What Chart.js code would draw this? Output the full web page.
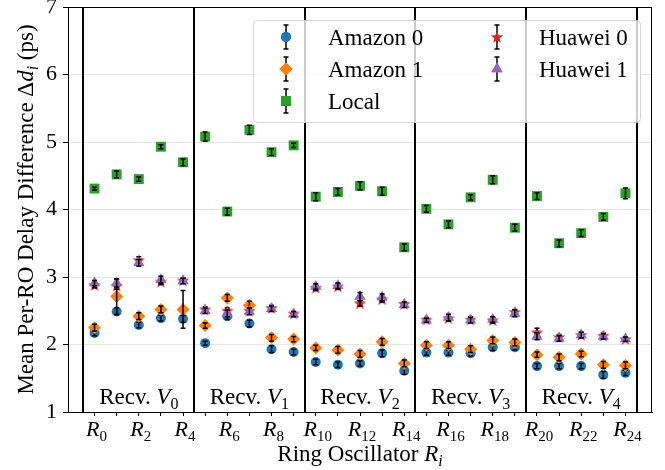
<!DOCTYPE html>
<html>
<head>
<meta charset="utf-8">
<script src="https://cdn.jsdelivr.net/npm/chart.js@4.4.1/dist/chart.umd.min.js"></script>
<style>
  html, body { margin: 0; padding: 0; background: #fff; }
  #wrap { width: 665px; height: 470px; }
</style>
</head>
<body>
<div id="wrap"><canvas id="chart" width="665" height="470"></canvas></div>
<script>
// ring oscillator index R_0 .. R_24
const roIndex = [0,1,2,3,4,5,6,7,8,9,10,11,12,13,14,15,16,17,18,19,20,21,22,23,24];

const amazon0    = [2.17,2.49,2.29,2.39,2.38, 2.02,2.42,2.31,1.93,1.89, 1.74,1.70,1.72,1.87,1.61, 1.88,1.88,1.87,1.96,1.96, 1.68,1.68,1.68,1.55,1.58];
const amazon0Err = [0.04,0.05,0.04,0.04,0.05, 0.03,0.05,0.05,0.05,0.04, 0.04,0.04,0.04,0.05,0.05, 0.04,0.04,0.04,0.05,0.04, 0.04,0.04,0.04,0.05,0.04];
const amazon1    = [2.25,2.71,2.42,2.52,2.52, 2.28,2.69,2.58,2.10,2.08, 1.95,1.92,1.86,2.04,1.72, 1.99,1.99,1.93,2.06,2.03, 1.85,1.81,1.86,1.70,1.69];
const amazon1Err = [0.05,0.26,0.05,0.05,0.28, 0.04,0.05,0.06,0.05,0.04, 0.04,0.05,0.05,0.05,0.05, 0.05,0.05,0.05,0.05,0.05, 0.04,0.05,0.04,0.05,0.05];
const local      = [4.31,4.52,4.45,4.93,4.70, 5.08,3.97,5.18,4.85,4.95, 4.19,4.26,4.35,4.27,3.44, 4.01,3.78,4.18,4.44,3.73, 4.20,3.50,3.65,3.89,4.24];
const localErr   = [0.02,0.05,0.03,0.03,0.05, 0.07,0.05,0.07,0.05,0.03, 0.06,0.05,0.06,0.06,0.05, 0.05,0.05,0.04,0.06,0.05, 0.05,0.05,0.05,0.05,0.08];
const huawei0    = [2.88,2.87,3.25,2.93,2.95, 2.52,2.50,2.50,2.54,2.46, 2.84,2.86,2.61,2.67,2.60, 2.37,2.39,2.37,2.36,2.48, 2.18,2.11,2.14,2.13,2.08];
const huawei0Err = [0.04,0.05,0.05,0.04,0.04, 0.04,0.04,0.04,0.04,0.03, 0.04,0.04,0.04,0.04,0.03, 0.03,0.04,0.04,0.04,0.04, 0.06,0.04,0.04,0.04,0.03];
const huawei1    = [2.91,2.91,3.21,2.96,2.94, 2.50,2.46,2.49,2.53,2.45, 2.86,2.87,2.71,2.70,2.59, 2.36,2.40,2.36,2.37,2.46, 2.12,2.09,2.14,2.12,2.08];
const huawei1Err = [0.04,0.06,0.05,0.05,0.04, 0.04,0.05,0.05,0.04,0.04, 0.04,0.04,0.06,0.05,0.04, 0.03,0.05,0.04,0.04,0.05, 0.05,0.04,0.04,0.04,0.03];

const yTicks = [1,2,3,4,5,6,7];
const xLabelTicks = [0,2,4,6,8,10,12,14,16,18,20,22,24];
const groupBounds = [-0.5,4.5,9.5,14.5,19.5,24.5];
const receivers = ['0','1','2','3','4'];
const groupCenters = [2,7,12,17,22];

const SERIF = '"Liberation Serif", "DejaVu Serif", serif';
const C = { blue: '#1f77b4', orange: '#ff7f0e', green: '#2ca02c', red: '#d62728', purple: '#9467bd' };

// filled 5-point star (matplotlib '*')
function makeStar(size, color) {
  const cv = document.createElement('canvas');
  cv.width = size; cv.height = size;
  const c = cv.getContext('2d');
  const R = size / 2 - 0.5, r = R * 0.42, cx = size / 2, cy = size / 2 + 0.5;
  c.beginPath();
  for (let k = 0; k < 10; k++) {
    const a = -Math.PI / 2 + k * Math.PI / 5;
    const rr = k % 2 ? r : R;
    c.lineTo(cx + rr * Math.cos(a), cy + rr * Math.sin(a));
  }
  c.closePath();
  c.fillStyle = color;
  c.fill();
  return cv;
}
const starImg = makeStar(14, C.red);

const pts = vals => roIndex.map((x, i) => ({ x, y: vals[i] }));

// rich text: parts [text, style] with style r=roman, i=italic, s=roman sub, si=italic sub
function setFont(ctx, st, size) {
  const sub = st === 's' || st === 'si';
  const it = st === 'i' || st === 'si';
  ctx.font = (it ? 'italic ' : '') + (sub ? Math.round(size * 0.7) : size) + 'px ' + SERIF;
  return sub;
}
function drawRich(ctx, parts, x, y, size, align) {
  let w = 0;
  parts.forEach(([t, st]) => { setFont(ctx, st, size); w += ctx.measureText(t).width; });
  let cx = align === 'center' ? x - w / 2 : x;
  ctx.textAlign = 'left';
  ctx.textBaseline = 'alphabetic';
  ctx.fillStyle = '#000';
  parts.forEach(([t, st]) => {
    const sub = setFont(ctx, st, size);
    ctx.fillText(t, cx, y + (sub ? size * 0.22 : 0));
    cx += ctx.measureText(t).width;
  });
}

function drawMarker(ctx, style, x, y) {
  ctx.save();
  if (style === 'star') {
    ctx.drawImage(starImg, x - 7, y - 7);
  } else {
    const m = { circle: [C.blue, 5], rectRot: [C.orange, 6.5], rect: [C.green, 7], triangle: [C.purple, 6.5] }[style];
    ctx.fillStyle = m[0];
    Chart.helpers.drawPoint(ctx, { pointStyle: style, radius: m[1], borderWidth: 0, rotation: 0 }, x, y);
    ctx.fill();
  }
  ctx.restore();
}

function errBar(ctx, x, yTop, yBot) {
  ctx.beginPath();
  ctx.moveTo(x, yTop); ctx.lineTo(x, yBot);
  ctx.moveTo(x - 2.5, yTop); ctx.lineTo(x + 2.5, yTop);
  ctx.moveTo(x - 2.5, yBot); ctx.lineTo(x + 2.5, yBot);
  ctx.stroke();
}

const decor = {
  id: 'decor',
  beforeDatasetsDraw(chart) {
    const { ctx, chartArea: a, scales: { x } } = chart;
    ctx.save();
    ctx.strokeStyle = '#000';
    ctx.lineWidth = 2;
    groupBounds.forEach(v => {
      const px = Math.round(x.getPixelForValue(v));
      ctx.beginPath(); ctx.moveTo(px, a.top); ctx.lineTo(px, a.bottom); ctx.stroke();
    });
    groupCenters.forEach((g, k) => {
      drawRich(ctx, [['Recv. ', 'r'], ['V', 'i'], [receivers[k], 's']], x.getPixelForValue(g), 404, 23, 'center');
    });
    ctx.restore();
  },
  afterDatasetDraw(chart, args) {
    const ds = chart.data.datasets[args.index];
    const y = chart.scales.y;
    const ctx = chart.ctx;
    ctx.save();
    ctx.strokeStyle = '#000';
    ctx.lineWidth = 1.5;
    args.meta.data.forEach((el, i) => {
      const v = ds.data[i].y, e = ds.err[i];
      errBar(ctx, el.x, y.getPixelForValue(v + e), y.getPixelForValue(v - e));
    });
    ctx.restore();
  },
  afterDraw(chart) {
    const { ctx, chartArea: a, scales: { x } } = chart;
    ctx.save();
    // frame
    ctx.strokeStyle = '#000';
    ctx.lineWidth = 1;
    ctx.strokeRect(a.left + 0.5, a.top + 0.5, a.right - a.left - 1, a.bottom - a.top);
    // x tick labels
    xLabelTicks.forEach(v => {
      drawRich(ctx, [['R', 'i'], [String(v), 's']], x.getPixelForValue(v) + 2, 436, 22, 'center');
    });
    // axis titles
    drawRich(ctx, [['Ring Oscillator ', 'r'], ['R', 'i'], ['i', 'si']], (a.left + a.right) / 2, 461, 23, 'center');
    ctx.save();
    ctx.translate(33, (a.top + a.bottom) / 2);
    ctx.rotate(-Math.PI / 2);
    drawRich(ctx, [['Mean Per-RO Delay Difference \u0394', 'r'], ['d', 'i'], ['i', 'si'], [' (ps)', 'r']], 0, 0, 23, 'center');
    ctx.restore();
    // legend
    ctx.beginPath();
    ctx.roundRect(253.5, 20.5, 387, 102, 4);
    ctx.fillStyle = 'rgba(255,255,255,0.8)';
    ctx.fill();
    ctx.strokeStyle = 'rgba(204,204,204,0.8)';
    ctx.stroke();
    const entries = [
      ['circle', 'Amazon 0', 286, 37], ['rectRot', 'Amazon 1', 286, 69], ['rect', 'Local', 286, 101],
      ['star', 'Huawei 0', 497, 37], ['triangle', 'Huawei 1', 497, 69]
    ];
    entries.forEach(([st, label, mx, my]) => {
      ctx.strokeStyle = '#000';
      ctx.lineWidth = 1.5;
      errBar(ctx, mx, my - 12, my + 12);
      drawMarker(ctx, st, mx, my);
      drawRich(ctx, [[label, 'r']], mx + 42, my + 8, 23, 'left');
    });
    ctx.restore();
  }
};

const mk = (label, vals, err, color, style, radius, order) => ({
  label, data: pts(vals), err,
  backgroundColor: color, borderColor: color,
  pointStyle: style, pointRadius: radius, pointBorderWidth: 0, order
});

new Chart(document.getElementById('chart'), {
  type: 'scatter',
  data: {
    datasets: [
      mk('Amazon 0', amazon0, amazon0Err, C.blue, 'circle', 5, 5),
      mk('Amazon 1', amazon1, amazon1Err, C.orange, 'rectRot', 6.5, 4),
      mk('Local', local, localErr, C.green, 'rect', 7, 3),
      mk('Huawei 0', huawei0, huawei0Err, C.red, starImg, 7, 2),
      mk('Huawei 1', huawei1, huawei1Err, C.purple, 'triangle', 6.5, 1)
    ]
  },
  options: {
    responsive: false,
    animation: false,
    events: [],
    layout: { padding: { top: 7, right: 13, left: 0, bottom: 0 } },
    plugins: { legend: { display: false }, tooltip: { enabled: false } },
    scales: {
      x: {
        type: 'linear', min: -1.2, max: 25.2,
        afterBuildTicks: s => { s.ticks = roIndex.map(v => ({ value: v })); },
        afterFit: s => { s.height = 58; s.paddingLeft = 0; s.paddingRight = 0; },
        grid: { drawOnChartArea: false, drawTicks: true, tickLength: 4, tickColor: '#000', tickWidth: 1 },
        border: { display: true, color: '#000', width: 1 },
        ticks: { display: false }
      },
      y: {
        min: 1, max: 7,
        afterBuildTicks: s => { s.ticks = yTicks.map(v => ({ value: v })); },
        afterFit: s => { s.width = 68; s.paddingTop = 0; s.paddingBottom = 0; },
        grid: { color: '#e6e6e6', lineWidth: 1, tickLength: 5, tickColor: '#000', tickWidth: 1 },
        border: { display: true, color: '#000', width: 1 },
        ticks: { color: '#000', padding: 6, font: { family: SERIF, size: 22 } }
      }
    }
  },
  plugins: [decor]
});
</script>
</body>
</html>
